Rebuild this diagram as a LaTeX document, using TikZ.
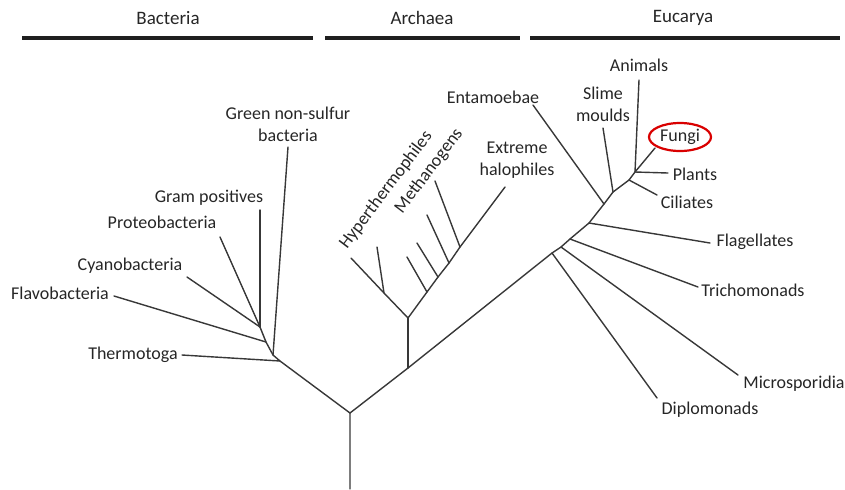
\documentclass[tikz,border=0pt]{standalone}
\usepackage{fontspec}
\setmainfont{Carlito}
\usetikzlibrary{positioning,shapes.geometric}

\begin{document}
\begin{tikzpicture}[
    x=0.5pt, y=-0.5pt,
    font=\fontsize{9}{11}\selectfont,
    taxon/.style={text=black!85, inner sep=0.5pt, align=center},
    domainhead/.style={text=black!85, inner sep=1pt, font=\fontsize{9.5}{11}\selectfont},
    domainrule/.style={draw=black!88, line width=1.8pt},
    branch/.style={draw=black!78, line width=0.7pt, line cap=round},
    circled/.style={taxon, ellipse, draw=red!85!black, line width=1.1pt,
                    minimum width=31pt, minimum height=14pt, inner sep=0pt}
]
\useasboundingbox (0,0) rectangle (845,489);

% Domain headings.
\node[domainhead] (bact) at (168,18) {Bacteria};
\node[domainhead] (arch) at (422,18) {Archaea};
\node[domainhead] (euca) at (683,18) {Eucarya};
\draw[domainrule] (22,38) -- (313,38);
\draw[domainrule] (325,38) -- (520,38);
\draw[domainrule] (530,38) -- (840,38);

% Tree junctions.
\coordinate (base) at (350,489);
\coordinate (root) at (350,413);
\coordinate (bthermo) at (280,361);
\coordinate (b1) at (273,355);
\coordinate (b2) at (266,342);
\coordinate (b3) at (260,327);
\coordinate (a0) at (408,368);
\coordinate (a1) at (408,318);
\coordinate (h1) at (384,293);
\coordinate (m1) at (427,292);
\coordinate (m2) at (438,277);
\coordinate (m3) at (449,263);
\coordinate (m4) at (460,247);
\coordinate (e1) at (552,253);
\coordinate (e2) at (561,247);
\coordinate (e3) at (570,239);
\coordinate (e4) at (589,223);
\coordinate (e5) at (604,204);
\coordinate (e6) at (613,192);
\coordinate (e7) at (629,180);
\coordinate (e8) at (635,172);

% Branch tips.
\coordinate (thermotip) at (182,355);
\coordinate (greentip) at (288,147);
\coordinate (flavotip) at (114,296);
\coordinate (cyanotip) at (187,277);
\coordinate (proteotip) at (220,237);
\coordinate (gramtip) at (260,210);
\coordinate (hypertip) at (351,258);
\coordinate (hyper2tip) at (377,247);
\coordinate (m1tip) at (407,257);
\coordinate (m2tip) at (417,243);
\coordinate (m3tip) at (427,215);
\coordinate (m4tip) at (435,181);
\coordinate (halotip) at (505,187);
\coordinate (diplotip) at (657,398);
\coordinate (microtip) at (738,375);
\coordinate (trichotip) at (698,287);
\coordinate (flageltip) at (710,243);
\coordinate (entatip) at (533,105);
\coordinate (slimetip) at (603,128);
\coordinate (ciliatetip) at (657,195);
\coordinate (animaltip) at (639,80);
\coordinate (planttip) at (668,173);
\coordinate (fungitip) at (655,148);

% Bacteria.
\node[taxon] (green) at (288,124) {Green non-sulfur\\bacteria};
\node[taxon] (gram) at (209,198) {Gram positives};
\node[taxon] (proteo) at (162,222) {Proteobacteria};
\node[taxon] (cyano) at (130,266) {Cyanobacteria};
\node[taxon] (flavo) at (60,293) {Flavobacteria};
\node[taxon] (thermo) at (133,355) {Thermotoga};

% Archaea.
\node[taxon, rotate=53] (hyper) at (386,190) {Hyperthermophiles};
\node[taxon, rotate=53] (methano) at (429,171) {Methanogens};
\node[taxon] (halo) at (517,160) {Extreme\\halophiles};

% Eucarya.
\node[taxon] (enta) at (493,97) {Entamoebae};
\node[taxon] (slime) at (603,104) {Slime\\moulds};
\node[taxon] (animals) at (639,65) {Animals};
\node[circled] (fungi) at (680,137) {Fungi};
\node[taxon] (plants) at (695,174) {Plants};
\node[taxon] (ciliates) at (687,202) {Ciliates};
\node[taxon] (flagel) at (755,242) {Flagellates};
\node[taxon] (tricho) at (753,290) {Trichomonads};
\node[taxon] (micro) at (794,384) {Microsporidia};
\node[taxon] (diplo) at (710,410) {Diplomonads};

% Trunks.
\draw[branch] (base) -- (root) -- (bthermo) -- (b1) -- (b2) -- (b3);
\draw[branch] (root) -- (a0) -- (e1) -- (e2) -- (e3) -- (e4) -- (e5) -- (e6) -- (e7) -- (e8) -- (fungitip);
\draw[branch] (a0) -- (a1);
\draw[branch] (a1) -- (h1) -- (hypertip);
\draw[branch] (a1) -- (m1) -- (m2) -- (m3) -- (m4) -- (halotip);

% Side branches.
\draw[branch] (bthermo) -- (thermotip);
\draw[branch] (b1) -- (greentip);
\draw[branch] (b2) -- (flavotip);
\draw[branch] (b3) -- (cyanotip);
\draw[branch] (b3) -- (proteotip);
\draw[branch] (b3) -- (gramtip);
\draw[branch] (h1) -- (hyper2tip);
\draw[branch] (m1) -- (m1tip);
\draw[branch] (m2) -- (m2tip);
\draw[branch] (m3) -- (m3tip);
\draw[branch] (m4) -- (m4tip);
\draw[branch] (e1) -- (diplotip);
\draw[branch] (e2) -- (microtip);
\draw[branch] (e3) -- (trichotip);
\draw[branch] (e4) -- (flageltip);
\draw[branch] (e5) -- (entatip);
\draw[branch] (e6) -- (slimetip);
\draw[branch] (e7) -- (ciliatetip);
\draw[branch] (e8) -- (animaltip);
\draw[branch] (e8) -- (planttip);

\end{tikzpicture}
\end{document}
